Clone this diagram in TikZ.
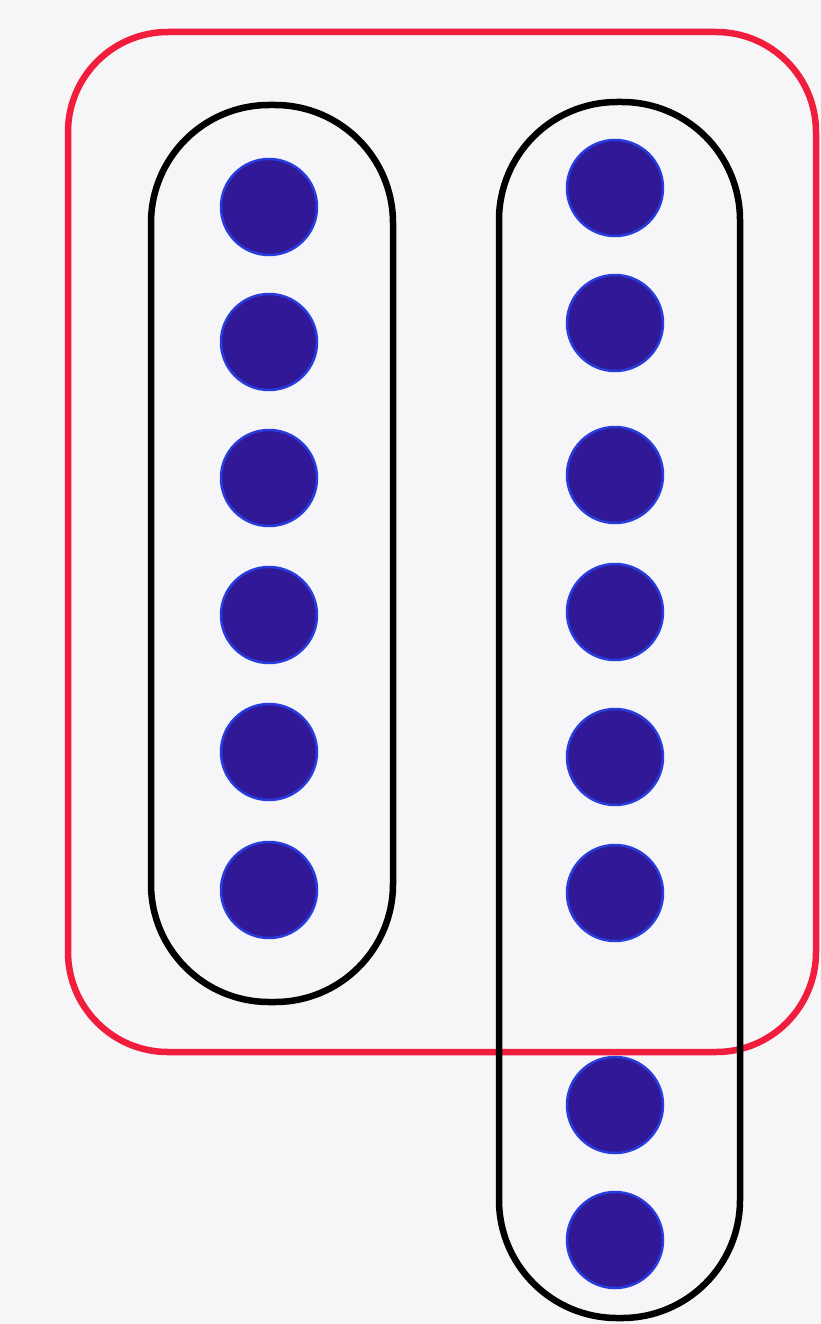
\documentclass[tikz,border=0pt]{standalone}
\definecolor{bg}{RGB}{246,245,248}
\definecolor{dotc}{RGB}{48,24,150}
\definecolor{dotedge}{RGB}{40,60,220}
\definecolor{redl}{RGB}{240,30,60}
\begin{document}
\begin{tikzpicture}[x=1pt,y=-1pt,
  dotn/.style={circle,fill=dotc,draw=dotedge,line width=2.5pt,minimum size=96pt,inner sep=0pt},
  capsule/.style={draw=black,line width=6.5pt,rounded corners=118pt},
  outer/.style={draw=redl,line width=6.5pt,rounded corners=100pt}]
\fill[bg] (0,0) rectangle (821,1324);
\useasboundingbox (0,0) rectangle (821,1324);
% left column dots
\foreach \y [count=\i] in {207,342,478,615,752,890}
  \node[dotn] (l\i) at (269,\y) {};
% right column dots
\foreach \y [count=\i] in {188,323,475,612,757,893,1105,1240}
  \node[dotn] (r\i) at (615,\y) {};
\draw[outer] (68,32) rectangle (816,1052);
\draw[capsule] (151,105) rectangle (393,1002);
\draw[capsule] (499,102) rectangle (740,1318);
\end{tikzpicture}
\end{document}
